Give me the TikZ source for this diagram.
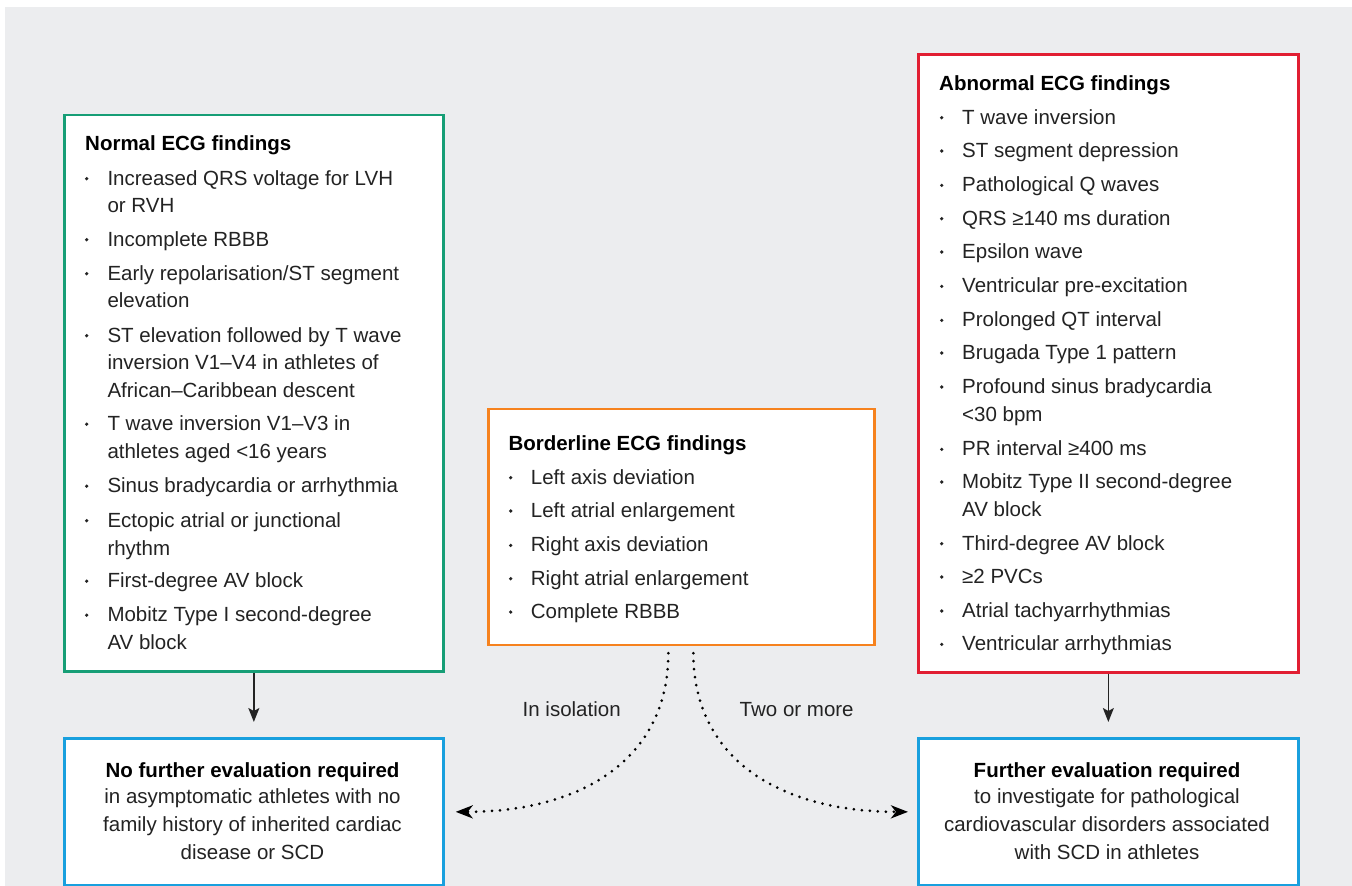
\documentclass[tikz,border=0pt]{standalone}
\usepackage{fontspec}
\setmainfont{Liberation Sans}
\usetikzlibrary{arrows.meta}
\definecolor{bggray}{RGB}{236,237,239}
\definecolor{cgreen}{RGB}{22,158,118}
\definecolor{corange}{RGB}{246,130,30}
\definecolor{cred}{RGB}{225,30,50}
\definecolor{cblue}{RGB}{25,160,222}
\definecolor{txt}{RGB}{35,35,35}
\newcommand{\fsz}{\fontsize{20.5}{24}\selectfont}
\begin{document}
\begin{tikzpicture}[x=1pt,y=-1pt,
  box/.style={draw=#1, line width=2.7pt, fill=white, inner sep=0pt, anchor=north west},
  item/.style={anchor=base west, inner sep=0pt, text=txt, font=\fsz},
  ttl/.style={anchor=base west, inner sep=0pt, text=black, font=\fsz\bfseries},
  ctr/.style={anchor=base, inner sep=0pt, text=txt, font=\fsz},
  ctrb/.style={anchor=base, inner sep=0pt, text=black, font=\fsz\bfseries},
  bul/.style={fill=txt},
  solidarrow/.style={draw=txt, line width=1.4pt, -{Stealth[length=14pt,width=11pt,inset=3pt]}},
  dotline/.style={draw=black, line width=3pt, line cap=round, dash pattern=on 0pt off 8pt, -{Stealth[length=17pt,width=13pt,inset=5pt]}}
]
\useasboundingbox (0,0) rectangle (1352,886);
\fill[bggray] (5,7) rectangle (1352,886);

% boxes
\node[box=cgreen, minimum width=379pt, minimum height=556.5pt] (normal) at (63,113.5) {};
\node[box=corange, minimum width=386pt, minimum height=236pt] (border) at (487,407.5) {};
\node[box=cred, minimum width=380pt, minimum height=618pt] (abnormal) at (917,53) {};
\node[box=cblue, minimum width=379pt, minimum height=147pt] (noeval) at (63,737) {};
\node[box=cblue, minimum width=380pt, minimum height=147pt] (furtheval) at (917,737) {};

% normal findings
\node[ttl] (gt) at (85,150.7) {Normal ECG findings};
\foreach \y/\t [count=\i] in {
  185/{Increased QRS voltage for LVH},
  212.7/{or RVH},
  246/{Incomplete RBBB},
  280/{Early repolarisation/ST segment},
  307/{elevation},
  342/{ST elevation followed by T wave},
  369.5/{inversion V1–V4 in athletes of},
  397/{African–Caribbean descent},
  430.5/{T wave inversion V1–V3 in},
  458.5/{athletes aged <16 years},
  492.5/{Sinus bradycardia or arrhythmia},
  527/{Ectopic atrial or junctional},
  555/{rhythm},
  587.5/{First-degree AV block},
  621.5/{Mobitz Type I second-degree},
  649/{AV block}}
  {\node[item] (g\i) at (107.3,\y) {\t};}
\foreach \y in {185,246,280,342,430.5,492.5,527,587.5,621.5}
  {\fill[bul] (86.7,\y-6.3) circle (1.8pt);}

% borderline findings
\node[ttl] (ot) at (508.3,450) {Borderline ECG findings};
\foreach \y/\t [count=\i] in {
  484/{Left axis deviation},
  517.3/{Left atrial enlargement},
  551.7/{Right axis deviation},
  585/{Right atrial enlargement},
  618.3/{Complete RBBB}}
  {\node[item] (o\i) at (530.7,\y) {\t};
   \fill[bul] (510.7,\y-6.3) circle (1.8pt);}

% abnormal findings
\node[ttl] (rt) at (939,90) {Abnormal ECG findings};
\foreach \y/\t [count=\i] in {
  124/{T wave inversion},
  157.3/{ST segment depression},
  191.7/{Pathological Q waves},
  225/{QRS ≥140 ms duration},
  258.3/{Epsilon wave},
  292.7/{Ventricular pre-excitation},
  326.7/{Prolonged QT interval},
  359.3/{Brugada Type 1 pattern},
  393.3/{Profound sinus bradycardia},
  421.7/{<30 bpm},
  455.7/{PR interval ≥400 ms},
  488.3/{Mobitz Type II second-degree},
  516/{AV block},
  550/{Third-degree AV block},
  583.3/{≥2 PVCs},
  617.3/{Atrial tachyarrhythmias},
  650.7/{Ventricular arrhythmias}}
  {\node[item] (r\i) at (962,\y) {\t};}
\foreach \y in {124,157.3,191.7,225,258.3,292.7,326.7,359.3,393.3,455.7,488.3,550,583.3,617.3,650.7}
  {\fill[bul] (941.7,\y-6.3) circle (1.8pt);}

% outcome boxes
\node[ctrb] (nt) at (252.5,777) {No further evaluation required};
\node[ctr] (n1) at (252.5,803.5) {in asymptomatic athletes with no};
\node[ctr] (n2) at (252.5,831.5) {family history of inherited cardiac};
\node[ctr] (n3) at (252.5,859.5) {disease or SCD};

\node[ctrb] (ft) at (1107,777) {Further evaluation required};
\node[ctr] (f1) at (1107,803.5) {to investigate for pathological};
\node[ctr] (f2) at (1107,831.5) {cardiovascular disorders associated};
\node[ctr] (f3) at (1107,859.5) {with SCD in athletes};

% connectors
\draw[solidarrow, shorten >=15pt] (normal) -- (noeval);
\draw[solidarrow, shorten >=15pt] (abnormal) -- (furtheval);

\draw[dotline, shorten >=11pt] ([xshift=-13pt,yshift=-7pt]border.south)
  .. controls +(0,105) and +(138,0) .. (noeval.east);
\draw[dotline, shorten >=9pt] ([xshift=12pt,yshift=-7pt]border.south)
  .. controls +(0,105) and +(-138,0) .. (furtheval.west);

\node[ctr] (liso) at (571.7,716) {In isolation};
\node[ctr] (ltwo) at (796.7,716) {Two or more};
\end{tikzpicture}
\end{document}
